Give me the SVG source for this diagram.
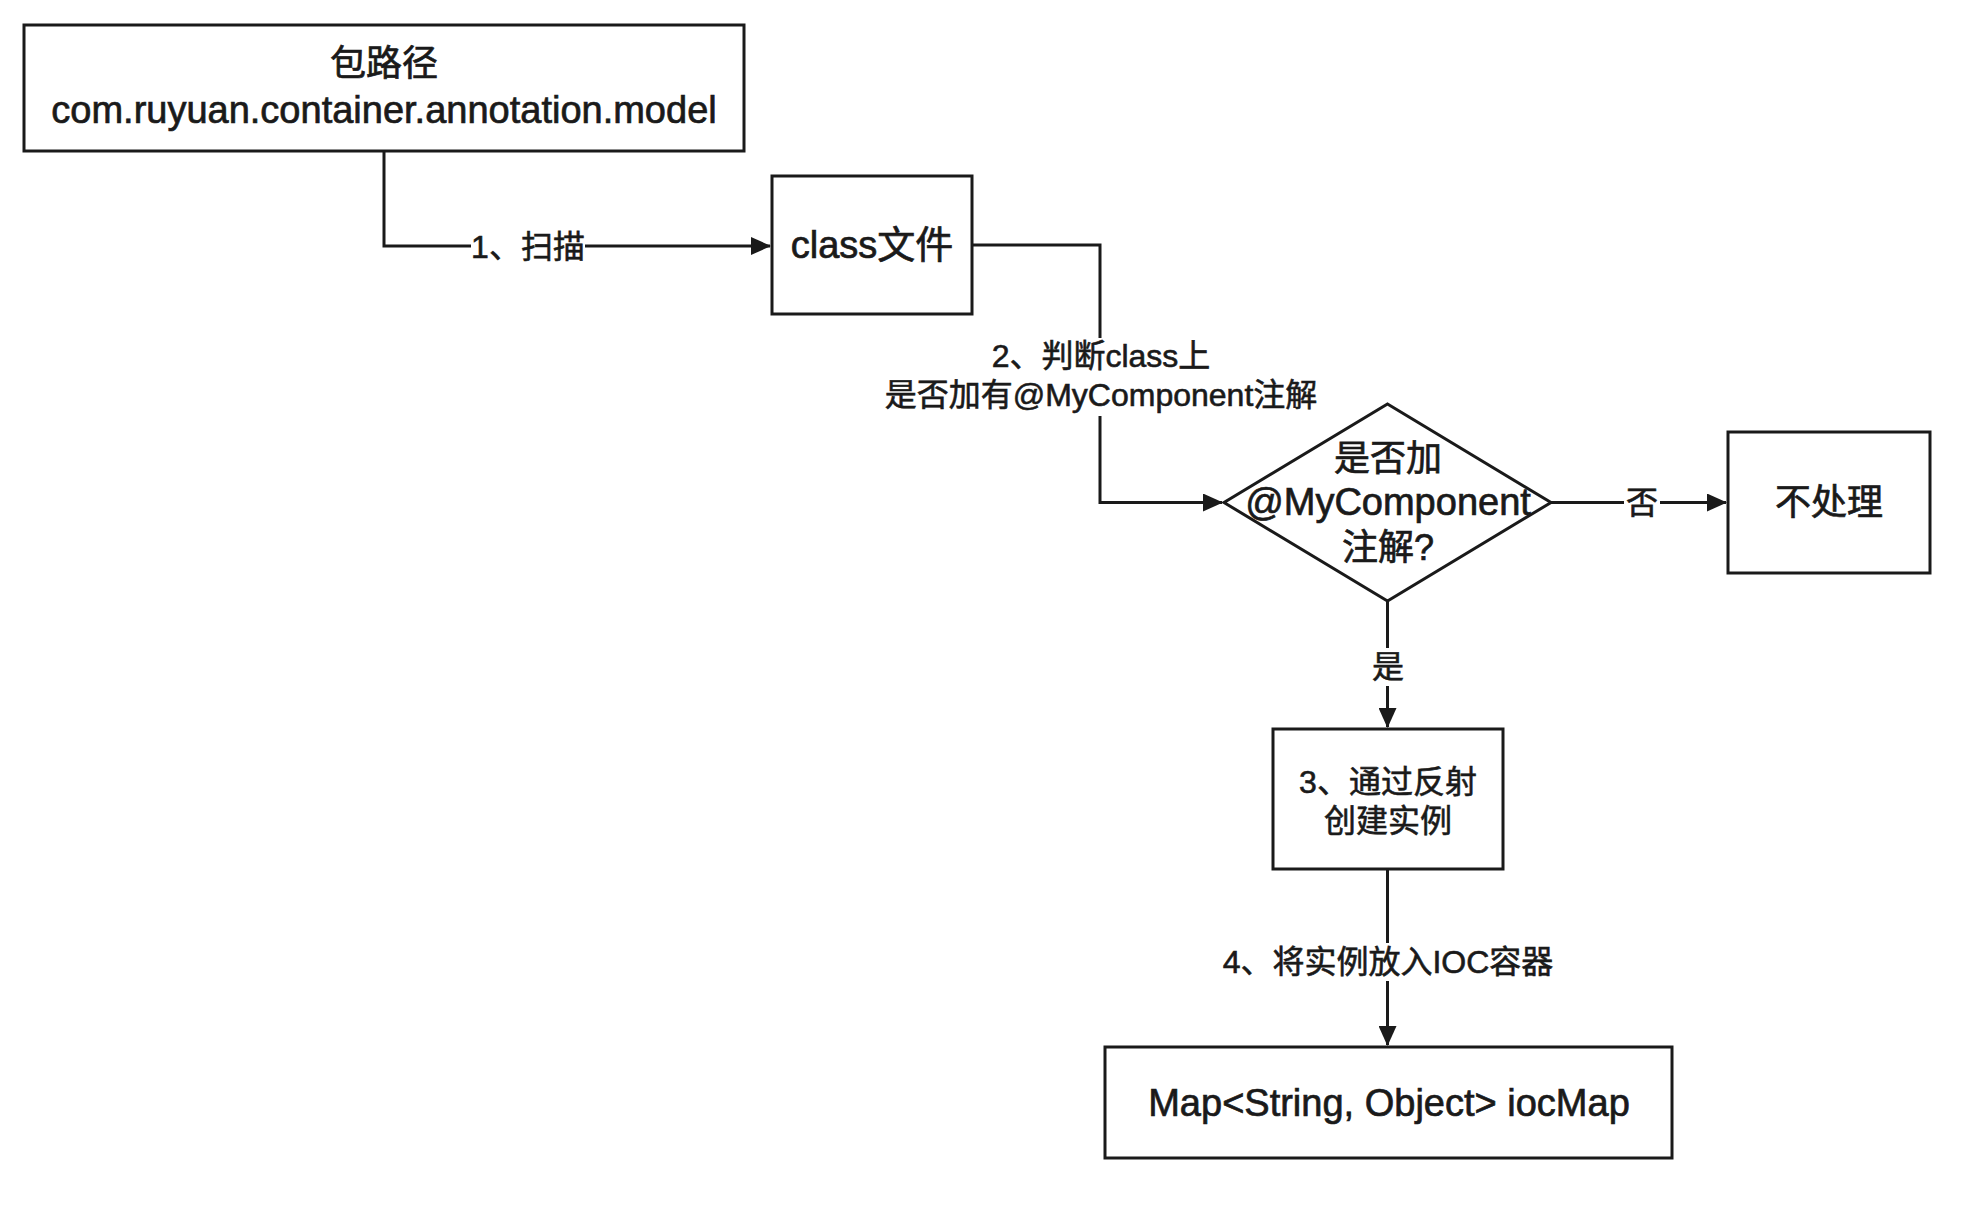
<svg xmlns="http://www.w3.org/2000/svg" width="1974" height="1212" viewBox="0 0 1974 1212">
<defs>
<marker id="arr" markerUnits="userSpaceOnUse" markerWidth="20" markerHeight="18" refX="19" refY="9" orient="auto">
<path d="M0,0 L20,9 L0,18 Z" fill="#1a1a1a"/>
</marker>
<style>
.box{fill:#fff;stroke:#1a1a1a;stroke-width:3}
.ln{fill:none;stroke:#1a1a1a;stroke-width:3}
.t{font-family:"Liberation Sans","Noto Sans CJK SC",sans-serif;font-size:38px;fill:#1a1a1a;stroke:#1a1a1a;stroke-width:0.7;text-anchor:middle;dominant-baseline:central}
.c{font-size:36px}
.e{font-family:"Liberation Sans","Noto Sans CJK SC",sans-serif;font-size:32px;fill:#1a1a1a;stroke:#1a1a1a;stroke-width:0.6;text-anchor:middle;dominant-baseline:central}
.bg{fill:#fff}
</style>
</defs>
<rect width="1974" height="1212" fill="#fff"/>
<g id="connectors">
<path class="ln" d="M384,151 V246 H770" marker-end="url(#arr)"/>
<path class="ln" d="M972,245 H1100 V502.5 H1222" marker-end="url(#arr)"/>
<path class="ln" d="M1551,502.5 H1726" marker-end="url(#arr)"/>
<path class="ln" d="M1387.5,601 V727" marker-end="url(#arr)"/>
<path class="ln" d="M1387.5,869.6 V1045" marker-end="url(#arr)"/>
<rect class="bg" x="471" y="229" width="114" height="36"/>
<text class="e" x="528" y="247">1、扫描</text>
<rect class="bg" x="880" y="338" width="444" height="78"/>
<text class="e" x="1101" y="356">2、判断class上</text>
<text class="e" x="1101" y="395">是否加有@MyComponent注解</text>
<rect class="bg" x="1624" y="485" width="36" height="36"/>
<text class="e" x="1642" y="503">否</text>
<rect class="bg" x="1368" y="648" width="38" height="38"/>
<text class="e" x="1388" y="667">是</text>
<rect class="bg" x="1220" y="943" width="338" height="38"/>
<text class="e" x="1388" y="962">4、将实例放入IOC容器</text>
</g>
<g id="package">
<rect class="box" x="24" y="25" width="720" height="126"/>
<text class="t c" x="384" y="63">包路径</text>
<text class="t" x="384" y="110">com.ruyuan.container.annotation.model</text>
</g>
<g id="classfile">
<rect class="box" x="772" y="176" width="200" height="138"/>
<text class="t" x="872" y="245">class文件</text>
</g>
<g id="decision">
<path class="box" d="M1387.5,404 L1551,502.5 L1387.5,601 L1224,502.5 Z"/>
<text class="t c" x="1388" y="458">是否加</text>
<text class="t" x="1388" y="502">@MyComponent</text>
<text class="t c" x="1388" y="547">注解?</text>
</g>
<g id="noop">
<rect class="box" x="1728" y="432" width="202" height="141"/>
<text class="t c" x="1829" y="502">不处理</text>
</g>
<g id="reflect">
<rect class="box" x="1273" y="729" width="230" height="140"/>
<text class="e" x="1388" y="782">3、通过反射</text>
<text class="e" x="1388" y="821">创建实例</text>
</g>
<g id="iocmap">
<rect class="box" x="1105" y="1047" width="567" height="111"/>
<text class="t" x="1389" y="1103">Map&lt;String, Object&gt; iocMap</text>
</g>
</svg>
